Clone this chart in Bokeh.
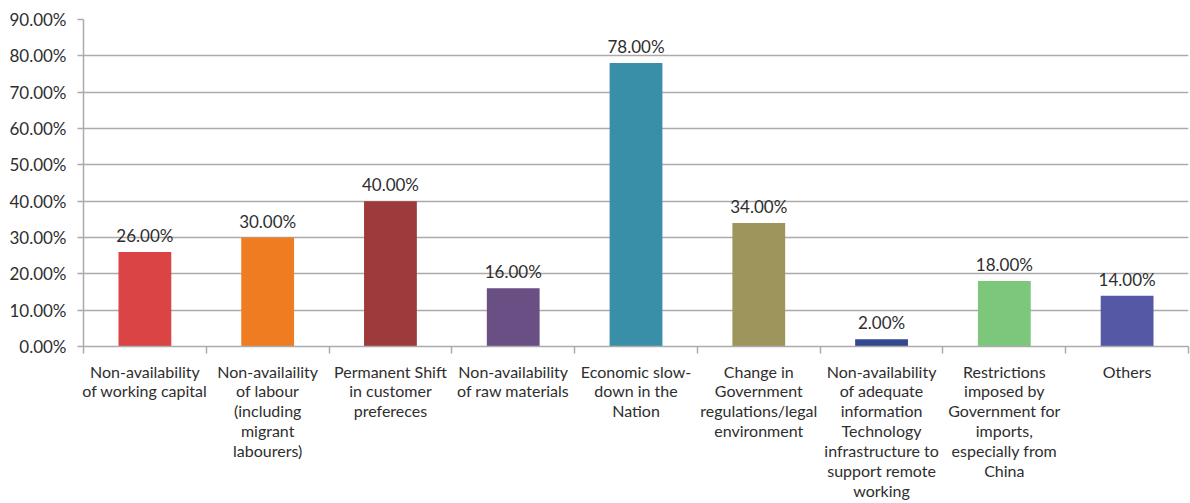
from bokeh.plotting import figure
from bokeh.models import (FactorRange, Range1d, LinearAxis, CategoricalAxis,
                          FixedTicker, NumeralTickFormatter, ColumnDataSource)
from bokeh.core.properties import value
from bokeh.embed import file_html
from bokeh.resources import INLINE

categories = [
    "Non-availability\nof working capital",
    "Non-availaility\nof labour\n(including\nmigrant\nlabourers)",
    "Permanent Shift\nin customer\nprefereces",
    "Non-availability\nof raw materials",
    "Economic slow-\ndown in the\nNation",
    "Change in\nGovernment\nregulations/legal\nenvironment",
    "Non-availability\nof adequate\ninformation\nTechnology\ninfrastructure to\nsupport remote\nworking",
    "Restrictions\nimposed by\nGovernment for\nimports,\nespecially from\nChina",
    "Others",
]
values = [0.26, 0.30, 0.40, 0.16, 0.78, 0.34, 0.02, 0.18, 0.14]
colors = ["#DB4444", "#F07C22", "#9D3A3B", "#694F84", "#3A8FA8",
          "#9E955C", "#34488E", "#7CC77B", "#5558A5"]
y_ticks = [0.0, 0.1, 0.2, 0.3, 0.4, 0.5, 0.6, 0.7, 0.8, 0.9]

FONT = "Lato"
TXT = "#2E2E2E"
GRID = "#ABABAB"

src = ColumnDataSource(dict(cat=categories, val=values, color=colors,
                            lab=[f"{v:.2%}" for v in values]))

p = figure(width=1190, height=503, output_backend="svg", toolbar_location=None,
           x_range=FactorRange(factors=categories, range_padding=0),
           y_range=Range1d(0, 0.9), x_axis_location=None,
           min_border_left=83, min_border_right=2, min_border_top=19,
           min_border_bottom=156)
p.outline_line_color = None
p.background_fill_color = "white"
p.border_fill_color = "white"

p.vbar(x="cat", top="val", width=0.43, fill_color="color", line_color=None,
       source=src)
p.text(x="cat", y="val", text="lab", y_offset=-6, text_align="center",
       text_baseline="bottom", text_font=value(FONT), text_font_size="17px",
       text_color=TXT, source=src)

# y axis
ya = p.yaxis[0]
ya.ticker = FixedTicker(ticks=y_ticks)
ya.formatter = NumeralTickFormatter(format="0.00%")
ya.axis_line_color = GRID
ya.axis_line_width = 1.5
ya.major_tick_line_color = GRID
ya.major_tick_line_width = 1.5
ya.major_tick_out = 6
ya.major_tick_in = 0
ya.minor_tick_line_color = None
ya.major_label_text_font = FONT
ya.major_label_text_font_size = "17px"
ya.major_label_text_color = TXT
ya.major_label_standoff = 11

p.xgrid.grid_line_color = None
p.ygrid.ticker = FixedTicker(ticks=y_ticks)
p.ygrid.grid_line_color = GRID
p.ygrid.grid_line_width = 1.5

# boundary ticks axis (category edges in synthetic coordinates)
edges = list(range(len(categories) + 1))
ta = LinearAxis(ticker=FixedTicker(ticks=edges))
ta.major_label_overrides = {e: "" for e in edges}
ta.axis_line_color = GRID
ta.axis_line_width = 1.5
ta.major_tick_line_color = GRID
ta.major_tick_line_width = 1.5
ta.major_tick_out = 7
ta.major_tick_in = 0
ta.minor_tick_line_color = None
ta.major_label_standoff = 0
p.add_layout(ta, "below")

# category labels axis
ca = CategoricalAxis()
ca.axis_line_color = None
ca.major_tick_line_color = None
ca.minor_tick_line_color = None
ca.major_label_text_font = FONT
ca.major_label_text_font_size = "16px"
ca.major_label_text_color = TXT
ca.major_label_text_line_height = 1.05
ca.major_label_standoff = 2
ca.major_label_orientation = "horizontal"
p.add_layout(ca, "below")

open("out.html", "w").write(file_html(p, INLINE))
